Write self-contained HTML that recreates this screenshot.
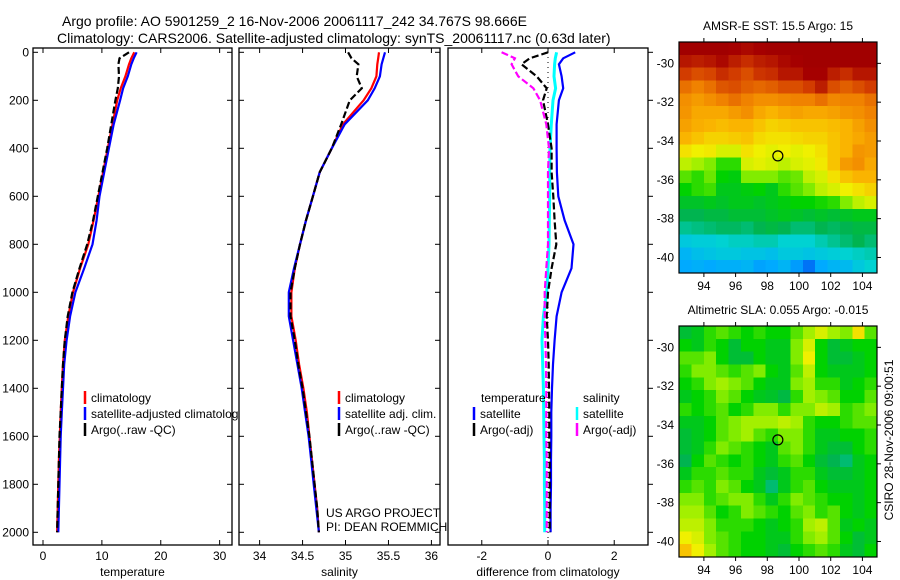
<!DOCTYPE html>
<html><head><meta charset="utf-8"><style>
html,body{margin:0;padding:0;background:#fff;}
svg{display:block;font-family:"Liberation Sans",sans-serif;}
</style></head><body>
<svg id="chart" width="900" height="580" viewBox="0 0 900 580">
<rect width="900" height="580" fill="#fff"/>
<text x="62" y="26" font-size="14">Argo profile: AO 5901259_2 16-Nov-2006 20061117_242 34.767S 98.666E</text>
<text x="57" y="43" font-size="14">Climatology: CARS2006. Satellite-adjusted climatology: synTS_20061117.nc (0.63d later)</text>
<g id="g"></g>
</svg>
<script>
const depths=[0,25,50,100,150,200,300,400,500,600,700,800,900,1000,1100,1200,1300,1400,1500,1600,1700,1800,1900,2000];
const tempClim=[15.5,15.0,14.6,14.0,13.2,12.6,11.8,11.0,10.2,9.4,8.6,7.7,6.3,5.1,4.3,3.7,3.4,3.2,3.0,2.85,2.7,2.6,2.5,2.4];
const tempSat=[15.9,15.4,15.0,14.4,13.6,13.1,12.0,11.2,10.4,9.6,9.1,8.4,7.0,5.5,4.6,4.0,3.6,3.4,3.2,3.0,2.9,2.8,2.7,2.6];
const tempArgo=[14.6,13.0,12.8,12.9,12.7,12.3,11.6,10.9,10.1,9.3,8.5,7.5,6.2,5.0,4.2,3.7,3.4,3.2,3.0,2.8,2.7,2.6,2.5,2.4];
const salClim=[35.39,35.38,35.37,35.36,35.30,35.21,34.97,34.84,34.70,34.62,34.54,34.47,34.41,34.37,34.37,34.42,34.46,34.51,34.55,34.58,34.61,34.64,34.67,34.69];
const salSat=[35.46,35.44,35.42,35.40,35.34,35.26,34.99,34.84,34.70,34.62,34.54,34.47,34.40,34.34,34.34,34.39,34.44,34.49,34.53,34.57,34.60,34.63,34.66,34.69];
const salArgo=[35.03,35.07,35.15,35.13,35.19,35.05,34.95,34.84,34.70,34.62,34.54,34.47,34.41,34.36,34.36,34.41,34.45,34.50,34.54,34.58,34.61,34.64,34.67,34.69];
const dTempSat=[0.82,0.46,0.33,0.41,0.46,0.33,0.26,0.26,0.27,0.31,0.5,0.77,0.71,0.41,0.26,0.2,0.15,0.12,0.1,0.1,0.09,0.09,0.08,0.08];
const dTempArgo=[0,-0.55,-0.8,-0.34,-0.04,-0.15,0,0.11,0.11,0.16,0.2,0.25,0.11,0,-0.04,0,0.02,0.03,0.04,0.04,0.05,0.05,0.05,0.05];
const dSalSat=[0.26,0.22,0.2,0.18,0.23,0.15,0.1,0.06,0.05,0.05,0.04,0.03,0,-0.04,-0.14,-0.18,-0.16,-0.14,-0.13,-0.12,-0.11,-0.11,-0.1,-0.1];
const dSalArgo=[-1.4,-1.0,-1.1,-0.9,-0.44,-0.24,-0.05,0.03,0,0,0,0,-0.05,-0.1,-0.1,-0.08,-0.06,-0.05,-0.05,-0.05,-0.04,-0.04,-0.04,-0.04];
const depthTicks=[0,200,400,600,800,1000,1200,1400,1600,1800,2000];
const tempTicks=[0,10,20,30];
const salTicks=[34,34.5,35,35.5,36];
const diffTicks=[-2,0,2];
const lonTicks=[94,96,98,100,102,104];
const latTicks=[-30,-32,-34,-36,-38,-40];
const sstGrid=[
[97,97,97,97,96,95,96,97,97,97,97,97,97,97,97,97],
[93,92,93,95,92,90,92,93,95,96,97,97,97,97,97,97],
[88,86,87,90,88,86,89,90,93,93,96,96,92,90,93,93],
[82,80,82,85,86,84,83,84,86,86,88,92,86,84,86,88],
[78,76,78,80,82,80,78,78,79,80,80,82,79,80,80,82],
[77,74,74,74,76,78,74,72,74,75,74,74,75,77,78,80],
[75,73,72,71,72,72,70,68,69,70,70,70,71,72,75,78],
[72,70,68,68,69,70,67,66,66,67,68,68,70,72,74,76],
[66,64,65,62,62,66,64,63,64,63,64,66,70,72,77,76],
[60,58,56,52,52,62,63,62,60,62,63,65,70,76,78,74],
[54,52,55,50,49,56,56,56,54,55,60,62,66,70,72,72],
[50,52,53,48,48,49,50,48,52,54,56,60,62,64,66,68],
[47,47,48,47,48,48,47,48,49,50,50,51,52,56,60,62],
[44,44,45,45,46,46,46,47,48,47,46,47,46,47,48,48],
[40,41,42,43,43,42,44,45,44,42,42,44,43,44,45,45],
[34,35,35,36,37,37,38,38,36,36,36,38,40,42,44,42],
[30,32,33,34,34,33,33,32,34,34,33,34,35,36,37,38],
[28,29,28,29,29,30,27,28,30,26,20,28,30,31,34,36]];
const slaGrid=[
[46,48,52,54,52,50,52,50,50,54,58,62,58,56,66,54],
[50,48,52,50,46,50,50,48,48,56,62,50,46,48,50,50],
[54,54,56,50,46,46,50,48,48,56,64,50,46,46,48,50],
[52,56,56,54,52,54,56,50,48,54,60,50,48,48,48,50],
[50,52,56,58,56,54,50,48,48,56,58,52,52,48,50,52],
[48,50,52,56,54,50,48,47,45,52,58,56,54,50,50,54],
[52,50,52,54,50,52,56,56,52,56,56,60,58,52,54,56],
[48,48,50,54,56,58,58,58,60,58,52,50,50,52,54,54],
[46,48,50,54,56,58,54,52,56,56,52,48,48,50,50,52],
[46,48,52,56,54,52,50,48,54,56,52,48,46,46,50,52],
[44,50,54,52,50,52,50,48,52,54,50,46,44,42,48,50],
[48,52,52,54,52,52,48,46,48,52,52,48,46,46,48,50],
[52,54,52,56,54,50,48,42,48,52,54,50,48,48,48,50],
[56,56,52,54,56,56,52,48,52,56,54,52,50,50,48,50],
[58,58,54,50,52,56,54,52,50,54,56,52,54,50,48,50],
[60,60,56,52,52,52,50,48,50,52,58,60,54,48,50,48],
[64,62,56,54,52,50,50,48,48,52,56,58,54,50,46,48],
[70,64,58,54,52,50,50,48,46,50,52,54,52,48,46,50]];
const floatLon=98.666, floatLat=-34.767;

const NS="http://www.w3.org/2000/svg";
const G=document.getElementById('g');
function mk(tag,at,parent){const e=document.createElementNS(NS,tag);for(const k in at)e.setAttribute(k,at[k]);(parent||G).appendChild(e);return e;}
const yD=d=>52.3+0.24*d;
const stops=[[0,0,0,160],[0.15,0,80,240],[0.28,0,170,255],[0.36,0,210,210],[0.44,0,180,80],[0.5,0,210,0],[0.57,150,240,0],[0.64,240,240,0],[0.72,250,180,0],[0.8,240,130,0],[0.88,210,60,0],[0.96,165,0,0],[1,150,0,0]];
function cmap(v){v=Math.max(0,Math.min(1,v));for(let i=1;i<stops.length;i++){if(v<=stops[i][0]){const a=stops[i-1],b=stops[i],t=(v-a[0])/(b[0]-a[0]);return `rgb(${[1,2,3].map(k=>Math.round(a[k]+(b[k]-a[k])*t)).join(',')})`;}}return 'rgb(150,0,0)';}

function panel(name,x0,x1,xmin,xmax,ticks,label,leftLabels,rightTicksOut){
  const sx=v=>x0+(v-xmin)/(xmax-xmin)*(x1-x0);
  const b=mk('rect',{x:x0,y:48,width:x1-x0,height:497,fill:'#fff',stroke:'#000','stroke-width':1.3});
  
  
  ticks.forEach(t=>{const X=sx(t);
    mk('line',{x1:X,y1:48,x2:X,y2:53,stroke:'#000'});
    mk('line',{x1:X,y1:545,x2:X,y2:540,stroke:'#000'});
    const tx=mk('text',{x:X,y:560,'font-size':12,'text-anchor':'middle'});tx.textContent=t;
    
    
  });
  depthTicks.forEach(d=>{const Y=yD(d);
    if(rightTicksOut){mk('line',{x1:x1,y1:Y,x2:x1+5,y2:Y,stroke:'#000'});}
    else{mk('line',{x1:x0,y1:Y,x2:x0+5,y2:Y,stroke:'#000'});mk('line',{x1:x1,y1:Y,x2:x1-5,y2:Y,stroke:'#000'});}
    if(leftLabels){const tx=mk('text',{x:x0-4,y:Y+4,'font-size':12,'text-anchor':'end'});tx.textContent=d;
      
      }
  });
  const xl=mk('text',{x:(x0+x1)/2,y:576,'font-size':12,'text-anchor':'middle'});xl.textContent=label;
  
  
  return sx;
}
function line(sx,vals,color,dash,name,w){
  const d=vals.map((v,i)=>(i?'L':'M')+sx(v).toFixed(1)+','+yD(depths[i]).toFixed(1)).join('');
  const p=mk('path',{d:d,fill:'none',stroke:color,'stroke-width':w||2.2});
  if(dash)p.setAttribute('stroke-dasharray',dash);
  
  
}
function legend(x,y,color,text,name){
  mk('line',{x1:x,y1:y-7,x2:x,y2:y+6,stroke:color,'stroke-width':2.5});
  const t=mk('text',{x:x+6,y:y+4,'font-size':12});t.textContent=text;
  
  
}
// panel 1
let sx=panel('temperature-panel',33,232,-1.7,32.1,tempTicks,'temperature',true,false);
line(sx,tempClim,'#f00',null,'temperature-climatology-line');
line(sx,tempSat,'#00f',null,'temperature-satellite-line');
line(sx,tempArgo,'#000','7,3','temperature-argo-line');
legend(85,398,'#f00','climatology','legend-temp-climatology');
legend(85,414,'#00f','satellite-adjusted climatology','legend-temp-satellite');
legend(85,430,'#000','Argo(..raw -QC)','legend-temp-argo');
// panel 2
sx=panel('salinity-panel',239,440,33.76,36.1,salTicks,'salinity',false,false);
line(sx,salClim,'#f00',null,'salinity-climatology-line');
line(sx,salSat,'#00f',null,'salinity-satellite-line');
line(sx,salArgo,'#000','7,3','salinity-argo-line');
legend(339,398,'#f00','climatology','legend-sal-climatology');
legend(339,414,'#00f','satellite adj. clim.','legend-sal-satellite');
legend(339,430,'#000','Argo(..raw -QC)','legend-sal-argo');
let t=mk('text',{x:326,y:517,'font-size':12});t.textContent='US ARGO PROJECT';


t=mk('text',{x:326,y:531,'font-size':12});t.textContent='PI: DEAN ROEMMICH';


// panel 3
sx=panel('difference-panel',448,648,-3.02,3.02,diffTicks,'difference from climatology',false,true);
mk('line',{x1:sx(0),y1:52,x2:sx(0),y2:545,stroke:'#000','stroke-dasharray':'1,4'});
line(sx,dTempSat,'#00f',null,'diff-temp-satellite-line');
line(sx,dSalSat,'#0ff',null,'diff-sal-satellite-line',3);
line(sx,dTempArgo,'#000','7,3','diff-temp-argo-line');
line(sx,dSalArgo,'#f0f','7,3','diff-sal-argo-line');
t=mk('text',{x:481,y:402,'font-size':12});t.textContent='temperature';


t=mk('text',{x:583,y:402,'font-size':12});t.textContent='salinity';


legend(474,414,'#00f','satellite','legend-diff-temp-satellite');
legend(474,430,'#000','Argo(-adj)','legend-diff-temp-argo');
legend(577,414,'#0ff','satellite','legend-diff-sal-satellite');
legend(577,430,'#f0f','Argo(-adj)','legend-diff-sal-argo');

// maps
function map(name,grid,top,title,vmin,vmax){
  const L=679,R=877,B=top+231,lon0=92.43,lon1=104.92,lat0=-28.9,lat1=-40.8;
  const mx=v=>L+(v-lon0)/(lon1-lon0)*(R-L), my=v=>top+(v-lat0)/(lat1-lat0)*(B-top);
  const rows=grid.length,cols=grid[0].length,cw=(R-L)/cols,ch=(B-top)/rows;
  grid.forEach((row,r)=>row.forEach((v,c)=>{
    const cell=mk('rect',{x:L+c*cw,y:top+r*ch,width:cw+0.6,height:ch+0.6,fill:cmap((v-vmin)/(vmax-vmin)),'shape-rendering':'crispEdges'});
    
    
  }));
  const b=mk('rect',{x:L,y:top,width:R-L,height:B-top,fill:'none',stroke:'#000','stroke-width':1.2});
  
  
  lonTicks.forEach(v=>{const X=mx(v);mk('line',{x1:X,y1:top,x2:X,y2:top-4,stroke:'#000'});mk('line',{x1:X,y1:B,x2:X,y2:B+4,stroke:'#000'});
    const tx=mk('text',{x:X,y:B+17,'font-size':12,'text-anchor':'middle'});tx.textContent=v;
    
    });
  latTicks.forEach(v=>{const Y=my(v);mk('line',{x1:R,y1:Y,x2:R+4,y2:Y,stroke:'#000'});
    const tx=mk('text',{x:L-5,y:Y+4,'font-size':12,'text-anchor':'end'});tx.textContent=v;
    
    });
  const c=mk('circle',{cx:mx(floatLon),cy:my(floatLat),r:5,fill:'none',stroke:'#000','stroke-width':1.2});
  
  
  const tt=mk('text',{x:(L+R)/2,y:top-12,'font-size':12,'text-anchor':'middle'});tt.textContent=title;
  
  
}
map('sst-map',sstGrid,42,'AMSR-E SST: 15.5 Argo: 15',0,100);
map('sla-map',slaGrid,326,'Altimetric SLA: 0.055 Argo: -0.015',0,100);
t=mk('text',{x:0,y:0,'font-size':12,'text-anchor':'middle',transform:'translate(893,440) rotate(-90)'});t.textContent='CSIRO 28-Nov-2006 09:00:51';


</script>
</body></html>
